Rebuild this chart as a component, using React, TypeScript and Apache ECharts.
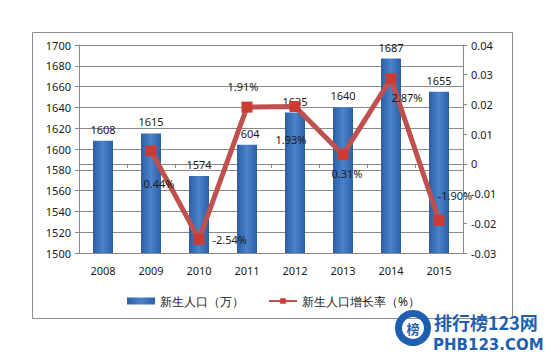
import React, { useEffect, useRef } from "react";
import * as echarts from "echarts";

const years = ["2008", "2009", "2010", "2011", "2012", "2013", "2014", "2015"];
const births = [1608, 1615, 1574, 1604, 1635, 1640, 1687, 1655];
const growth = [null, 0.0044, -0.0254, 0.0191, 0.0193, 0.0031, 0.0287, -0.019];
const growthLabels = ["", "0.44%", "-2.54%", "1.91%", "1.93%", "0.31%", "2.87%", "-1.90%"];
const leftTicks = [1500, 1700, 20];
const rightTicks = [-0.03, 0.04, 0.01];
const seriesNames = ["新生人口（万）", "新生人口增长率（%）"];

const labelPlacement: any[] = [
  null,
  { position: "bottom", distance: 22, offset: [8, 0] },
  { position: "right", distance: 8, offset: [0, 0] },
  { position: "top", distance: 10, offset: [-4, 0] },
  { position: "bottom", distance: 22, offset: [-4, 0] },
  { position: "bottom", distance: 8, offset: [4, 0] },
  { position: "bottom", distance: 8, offset: [16, 0] },
  { position: "top", distance: 14, offset: [16, 0] },
];

export default function App() {
  const ref = useRef<HTMLDivElement>(null);
  useEffect(() => {
    const chart = echarts.init(ref.current!, null, { renderer: "svg" });
    const font = "'Noto Sans', 'DejaVu Sans', sans-serif";
    const txt = "#1a1a1a";
    const barColor = new echarts.graphic.LinearGradient(0, 0, 1, 0, [
      { offset: 0, color: "#2c5ea3" },
      { offset: 0.5, color: "#4a83cc" },
      { offset: 1, color: "#2c5ea3" },
    ]);
    chart.setOption({
      animation: false,
      textStyle: { fontFamily: font },
      grid: { left: 79, right: 97, top: 45, bottom: 110 },
      legend: {
        left: 122,
        top: 290,
        itemWidth: 28,
        itemHeight: 7,
        itemGap: 24,
        textStyle: { fontSize: 12, color: txt, fontFamily: font },
        data: [
          { name: seriesNames[0], icon: "rect" },
          { name: seriesNames[1] },
        ],
      },
      xAxis: {
        type: "category",
        data: years,
        axisLine: { lineStyle: { color: "#888" } },
        axisTick: { show: true, length: 4, lineStyle: { color: "#888" } },
        axisLabel: { fontSize: 11, color: txt, margin: 12 },
      },
      yAxis: [
        {
          type: "value",
          min: leftTicks[0],
          max: leftTicks[1],
          interval: leftTicks[2],
          axisLine: { show: true, lineStyle: { color: "#888" } },
          axisTick: { show: true, length: 4, lineStyle: { color: "#888" } },
          axisLabel: { fontSize: 11, color: txt, margin: 8, formatter: (v: number) => String(v) },
          splitLine: { lineStyle: { color: "#8a8a8a" } },
        },
        {
          type: "value",
          min: rightTicks[0],
          max: rightTicks[1],
          interval: rightTicks[2],
          axisLine: { show: true, lineStyle: { color: "#888" } },
          axisTick: { show: true, length: 4, lineStyle: { color: "#888" } },
          axisLabel: {
            fontSize: 11,
            color: txt,
            margin: 8,
            formatter: (v: number) => String(Math.round(v * 100) / 100),
          },
          splitLine: { show: false },
        },
      ],
      series: [
        {
          name: seriesNames[0],
          type: "bar",
          data: births,
          barWidth: 20,
          itemStyle: { color: barColor },
          label: { show: true, position: "top", distance: 6, fontSize: 11, color: txt },
        },
        {
          name: seriesNames[1],
          type: "line",
          yAxisIndex: 1,
          data: growth.map((v, i) => {
            const p = labelPlacement[i];
            return {
              value: v,
              label: p
                ? { show: true, position: p.position, distance: p.distance, offset: p.offset, formatter: growthLabels[i] }
                : { show: false },
            };
          }),
          symbol: "rect",
          symbolSize: 11,
          lineStyle: { color: "#c0504d", width: 5 },
          itemStyle: { color: "#cc3a33" },
          label: { show: true, fontSize: 11, color: txt },
          z: 5,
        },
      ],
      graphic: [
        {
          type: "rect",
          shape: { x: 32.5, y: 32.5, width: 480, height: 286 },
          style: { fill: "none", stroke: "#8c8c8c", lineWidth: 1 },
          silent: true,
        },
        {
          type: "ring",
          shape: { cx: 413, cy: 328, r: 18, r0: 11 },
          style: { fill: "#1f5fb0" },
          z: 10,
        },
        {
          type: "text",
          x: 413,
          y: 328,
          style: {
            text: "榜",
            fill: "#1f5fb0",
            font: "bold 13px 'Noto Sans CJK SC'",
            align: "center",
            verticalAlign: "middle",
          },
          z: 10,
        },
        {
          type: "text",
          x: 434,
          y: 313,
          style: {
            text: "排行榜123网",
            fill: "#1f5fb0",
            font: "bold 18px 'Noto Sans CJK SC'",
          },
          z: 10,
        },
        {
          type: "text",
          x: 433,
          y: 337,
          style: {
            text: "PHB123.COM",
            fill: "#1f5fb0",
            font: "bold 15px 'DejaVu Sans'",
          },
          z: 10,
        },
      ],
    });
    return () => chart.dispose();
  }, []);
  return <div ref={ref} style={{ width: 560, height: 363, position: "absolute", left: 0, top: 0 }} />;
}
